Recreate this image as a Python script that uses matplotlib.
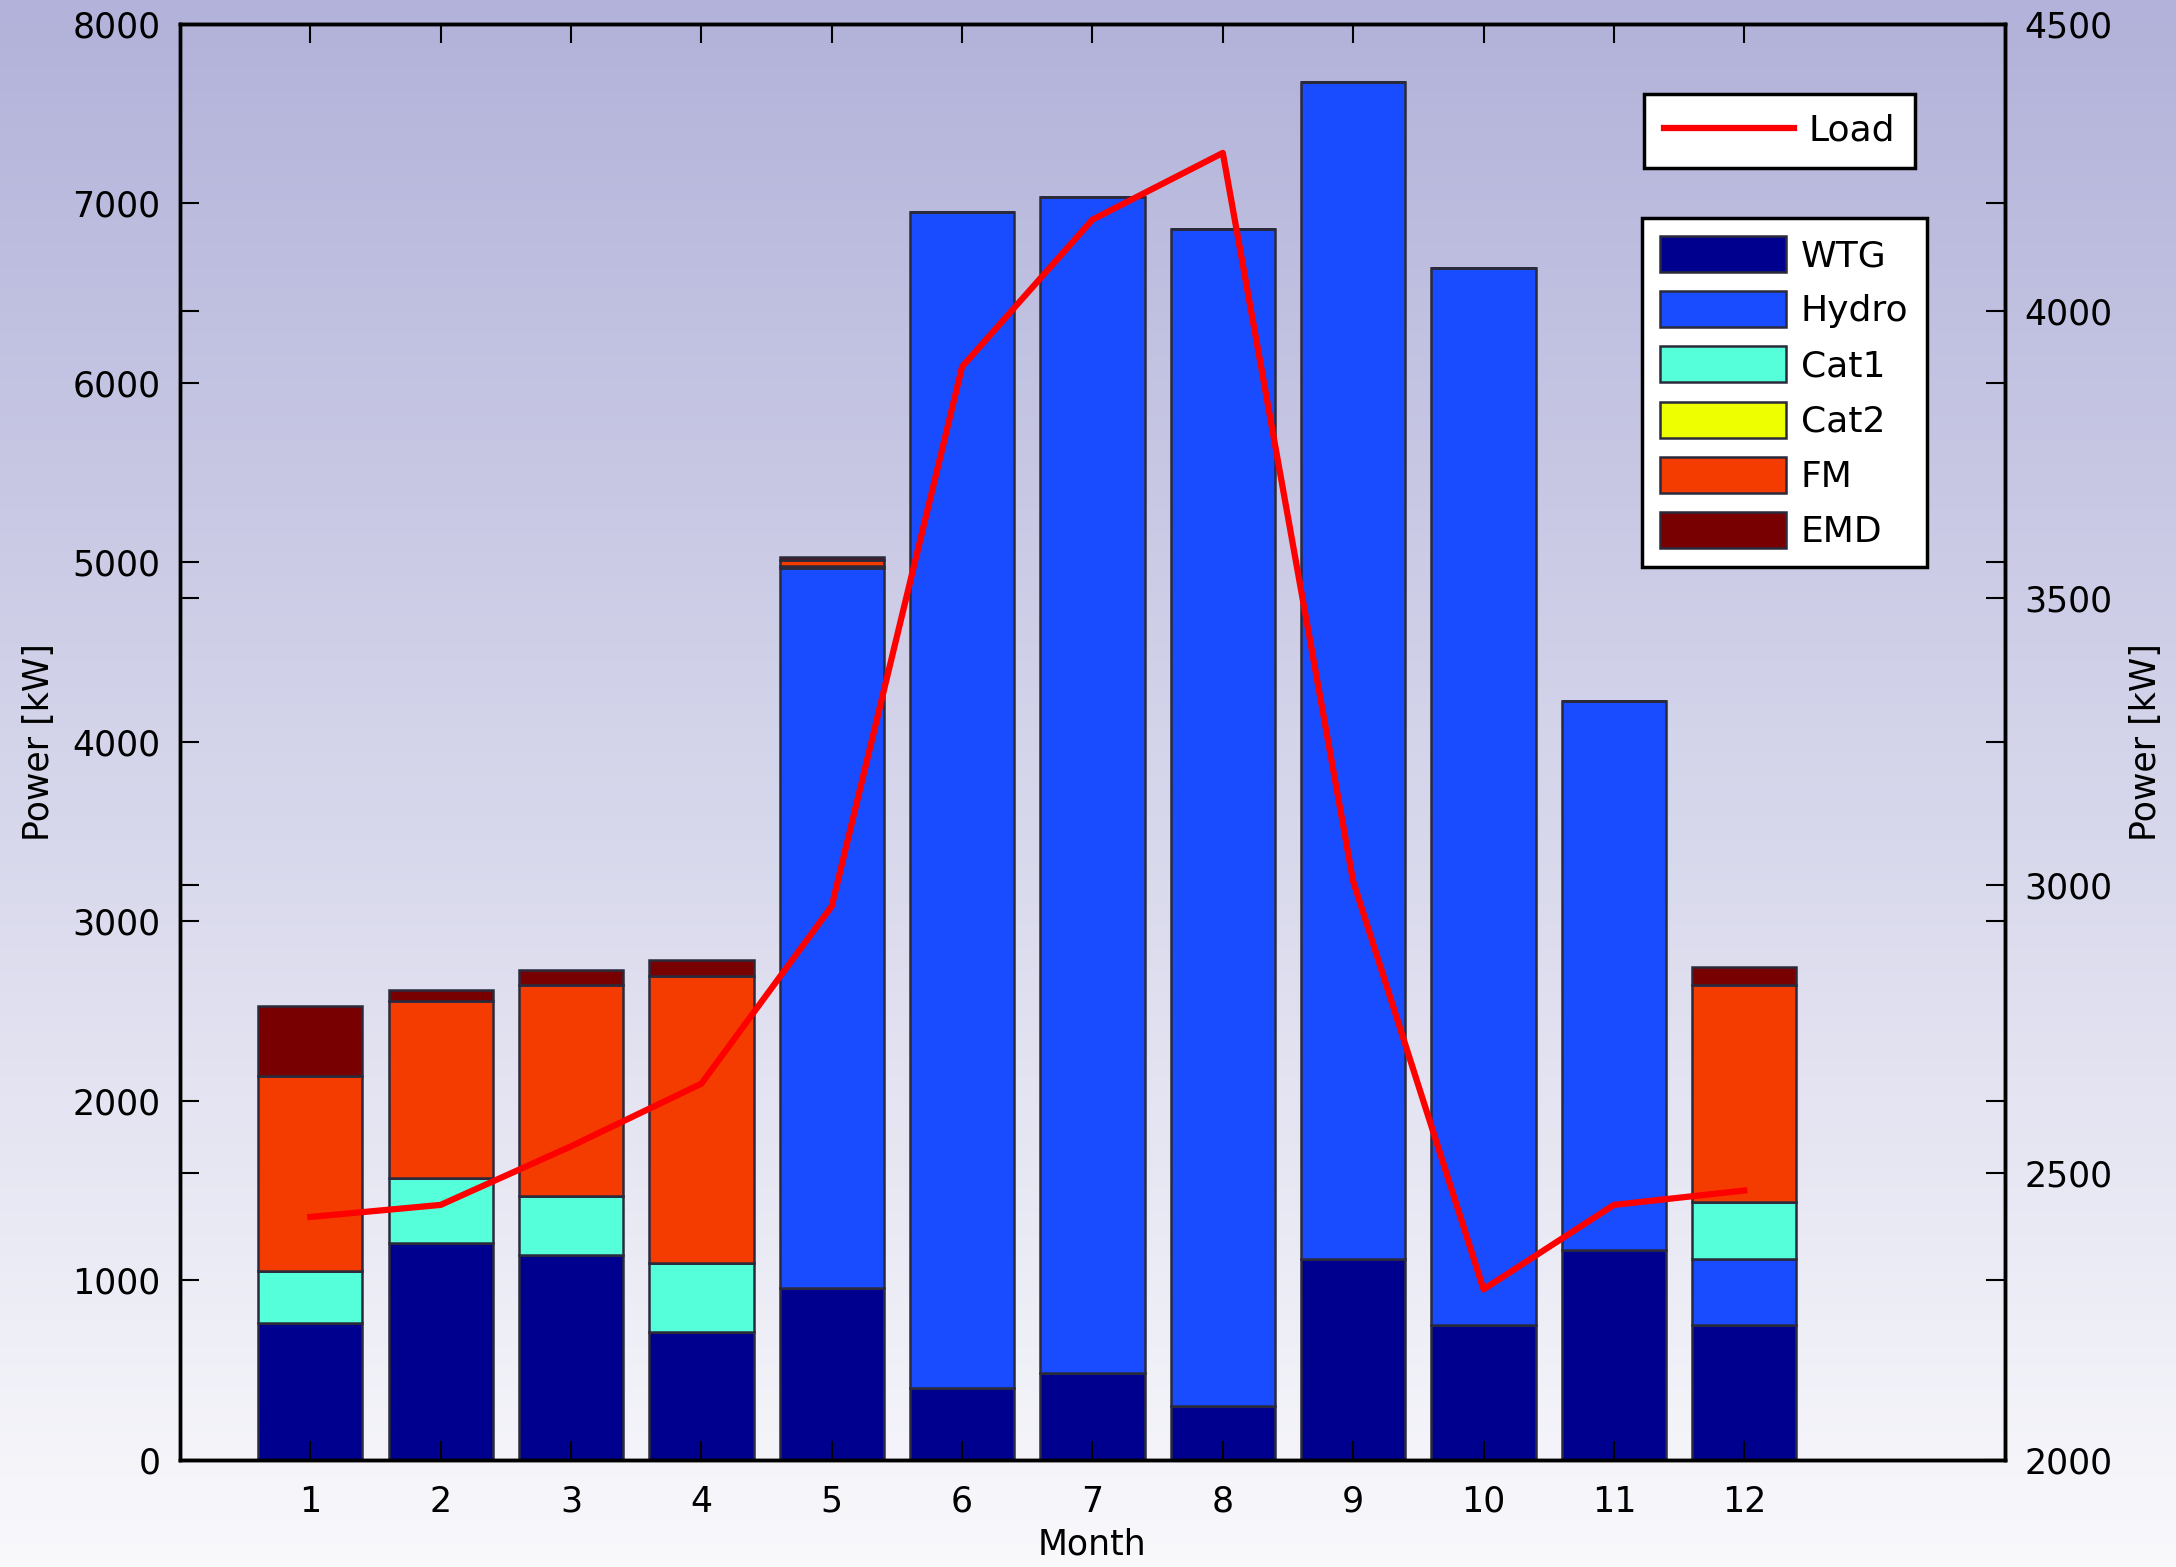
import matplotlib.pyplot as plt
import numpy as np
from matplotlib.colors import LinearSegmentedColormap

# data
months = list(range(1, 13))
wtg = [765, 1206, 1144, 711, 958, 402, 487, 301, 1121, 750, 1167, 750]
hydro = [0, 0, 0, 0, 4012, 6547, 6547, 6555, 6554, 5890, 3061, 371]
cat1 = [286, 363, 325, 387, 10, 0, 0, 0, 0, 0, 0, 317]
cat2 = [0, 0, 0, 0, 0, 0, 0, 0, 0, 0, 0, 0]
fm = [1090, 989, 1174, 1600, 30, 0, 0, 0, 0, 0, 0, 1205]
emd = [386, 62, 86, 85, 20, 0, 0, 0, 0, 0, 0, 101]
load = [2423, 2444, 2546, 2655, 2964, 3903, 4159, 4275, 3007, 2297, 2444, 2469]

labels = ["WTG", "Hydro", "Cat1", "Cat2", "FM", "EMD"]
colors = ["#00008f", "#1a4cff", "#55ffda", "#eeff00", "#f43c00", "#780000"]

plt.rcParams['font.family'] = ['DejaVu Sans']
fs = 25

fig = plt.figure(figsize=(21.76, 15.67), dpi=100)

# gradient background over the whole figure
bg = fig.add_axes([0, 0, 1, 1], zorder=-10)
grad = np.linspace(0, 1, 256)[:, None]
cmap = LinearSegmentedColormap.from_list("bg", ["#b2b2da", "#f9f9fc"])
bg.imshow(grad, aspect="auto", cmap=cmap, extent=[0, 1, 0, 1])
bg.axis("off")

ax = fig.add_axes([0.0827, 0.0683, 0.8387, 0.9166])
ax.set_facecolor("none")

bottom = np.zeros(len(months))
handles = []
for vals, c, lab in zip([wtg, hydro, cat1, cat2, fm, emd], colors, labels):
    b = ax.bar(months, vals, 0.8, bottom=bottom, color=c,
               edgecolor="#2a2a3c", linewidth=1.8, label=lab)
    handles.append(b)
    bottom += np.array(vals)

ax.set_xlim(0, 14)
ax.set_ylim(0, 8000)
ax.set_xticks(months)
ax.set_yticks(range(0, 8001, 1000))
# right-axis tick positions mirrored on the left axis
ax.set_yticks([1600, 3200, 4800, 6400], minor=True)
ax.tick_params(axis="both", which="both", direction="in", length=14,
               width=1.5, labelsize=fs)
ax.tick_params(axis="x", top=True, pad=18)
ax.tick_params(axis="y", right=False, pad=14)
ax.set_xlabel("Month", fontsize=fs, labelpad=6)
ax.set_ylabel("Power [kW]", fontsize=fs, labelpad=12)

ax2 = ax.twinx()
line, = ax2.plot(months, load, color="red", linewidth=4.5)
ax2.set_ylim(2000, 4500)
ax2.set_yticks(range(2000, 4501, 500))
ax2.set_yticks([2000 + v * 2500 / 8000 for v in range(1000, 8000, 1000)], minor=True)
ax2.tick_params(axis="y", which="both", direction="in", length=14,
                width=1.5, labelsize=fs, pad=14)
ax2.set_ylabel("Power [kW]", fontsize=fs, labelpad=12)

for a in (ax, ax2):
    for s in a.spines.values():
        s.set_linewidth(2.5)
        s.set_color("black")
ax.spines["left"].set_color("#333333")

lfs = 26
leg1 = ax2.legend([line], ["Load"], loc="upper left",
                  bbox_to_anchor=(1644 / 2176, 1 - 94 / 1567),
                  bbox_transform=fig.transFigure, fontsize=lfs,
                  fancybox=False, framealpha=1, edgecolor="black",
                  handlelength=3.6, handletextpad=0.4, borderpad=0.55,
                  borderaxespad=0)
leg1.get_frame().set_linewidth(2.5)
ax2.add_artist(leg1)

leg2 = ax2.legend(handles, labels, loc="upper left",
                  bbox_to_anchor=(1642 / 2176, 1 - 218 / 1567),
                  bbox_transform=fig.transFigure, fontsize=lfs,
                  fancybox=False, framealpha=1, edgecolor="black",
                  handlelength=3.5, handleheight=1.15, handletextpad=0.4,
                  labelspacing=0.5, borderpad=0.5, borderaxespad=0)
leg2.get_frame().set_linewidth(2.5)

fig.savefig("out.png", dpi=100)
plt.close(fig)
